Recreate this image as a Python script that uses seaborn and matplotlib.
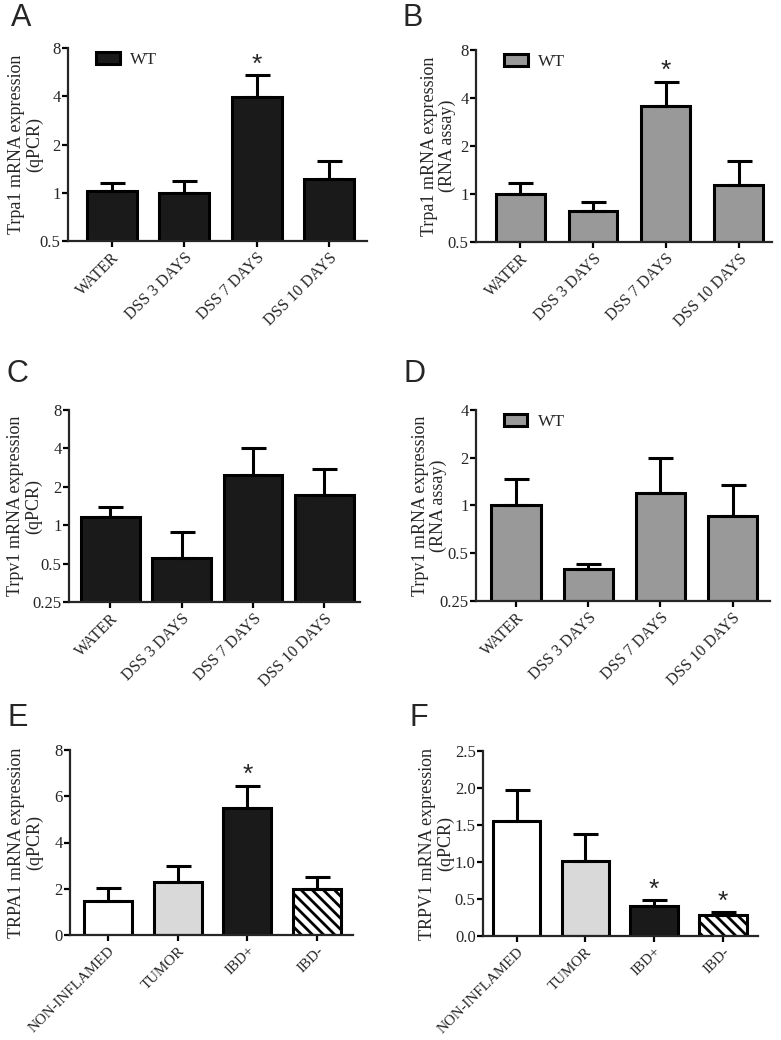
import matplotlib
matplotlib.use("Agg")
import matplotlib.pyplot as plt
import seaborn as sns
import numpy as np
import pandas as pd

# ---- data ----
dss_groups = ["WATER", "DSS 3 DAYS", "DSS 7 DAYS", "DSS 10 DAYS"]
human_groups = ["NON-INFLAMED", "TUMOR", "IBD+", "IBD-"]

trpa1_qpcr = [1.03, 1.00, 3.96, 1.22]
trpa1_qpcr_sem = [0.125, 0.19, 1.43, 0.35]
trpa1_rna = [1.00, 0.786, 3.55, 1.14]
trpa1_rna_sem = [0.18, 0.10, 1.51, 0.46]
trpv1_qpcr = [1.15, 0.557, 2.47, 1.72]
trpv1_qpcr_sem = [0.24, 0.33, 1.58, 1.03]
trpv1_rna = [1.01, 0.40, 1.20, 0.86]
trpv1_rna_sem = [0.46, 0.025, 0.78, 0.49]
human_trpa1 = [1.47, 2.30, 5.50, 2.01]
human_trpa1_sem = [0.56, 0.70, 0.96, 0.51]
human_trpv1 = [1.56, 1.01, 0.41, 0.29]
human_trpv1_sem = [0.41, 0.37, 0.07, 0.03]

log_ticks_8 = [0.5, 1, 2, 4, 8]
log_ticks_c = [0.25, 0.5, 1, 2, 4, 8]
log_ticks_d = [0.25, 0.5, 1, 2, 4]

sns.set_style("ticks")
plt.rcParams["font.family"] = ["Liberation Serif", "DejaVu Serif"]
plt.rcParams["hatch.linewidth"] = 2.0
plt.rcParams["axes.linewidth"] = 1.6

fig = plt.figure(figsize=(7.81, 10.4), dpi=100)

W, H = 781.0, 1040.0


def make_ax(x0, x1, ytop, ybot):
    return fig.add_axes([x0 / W, 1 - ybot / H, (x1 - x0) / W, (ybot - ytop) / H])


def style_axis(ax, xlim, ylabel, label_x, xfont):
    sns.despine(ax=ax)
    ax.set_xlim(*xlim)
    ax.set_xlabel("")
    ax.set_ylabel(ylabel, fontsize=13, linespacing=1.05)
    ax.yaxis.set_label_coords(label_x, 0.5)
    ax.tick_params(axis="both", which="major", direction="out", length=4.5,
                   width=1.6, color="black", labelsize=12)
    ax.tick_params(axis="y", pad=0.8)
    ax.tick_params(axis="x", pad=2)
    ax.tick_params(axis="y", which="minor", length=0)
    plt.setp(ax.get_xticklabels(), rotation=45, ha="right",
             rotation_mode="anchor", fontsize=xfont)


def add_stars(ax, values, sem, stars):
    for i in stars:
        ax.annotate("*", xy=(i, values[i] + sem[i]), xytext=(0, -1),
                    textcoords="offset points", ha="center", va="bottom",
                    fontsize=19, family="Liberation Sans")


def mouse_panel(ax, values, sem, color, width, ticks, ylabel, label_x, legend,
                xlim, stars=()):
    df = pd.DataFrame({"group": dss_groups, "value": values, "genotype": "WT"})
    sns.barplot(data=df, x="group", y="value", hue="genotype", palette=[color],
                dodge=False, width=width, edgecolor="black", linewidth=2.2,
                errorbar=None, legend=legend, ax=ax)
    ax.errorbar(np.arange(4), values, yerr=[np.zeros(4), sem], fmt="none",
                ecolor="black", elinewidth=2.2, capsize=9, capthick=2.2, zorder=1)
    ax.set_yscale("log", base=2)
    ax.set_ylim(ticks[0], ticks[-1])
    ax.set_yticks(ticks)
    ax.set_yticklabels([("%g" % t) for t in ticks])
    ax.yaxis.set_minor_locator(matplotlib.ticker.NullLocator())
    add_stars(ax, values, sem, stars)
    if legend:
        handles, labels = ax.get_legend_handles_labels()
        ax.legend(handles, labels, loc="upper left", frameon=False, fontsize=12.5,
                  handlelength=1.35, handleheight=0.75, handletextpad=0.6,
                  borderaxespad=0.2, bbox_to_anchor=(0.06, 1.035))
    style_axis(ax, xlim, ylabel, label_x, 11.5)


def human_panel(ax, values, sem, ticks, ylabel, label_x, xlim, stars=()):
    df = pd.DataFrame({"group": human_groups, "value": values})
    sns.barplot(data=df, x="group", y="value", hue="group",
                palette=["white", "#d9d9d9", "#1a1a1a", "white"],
                width=0.69, edgecolor="black", linewidth=2.2,
                errorbar=None, legend=False, ax=ax)
    ax.patches[3].set_hatch("\\\\\\")
    ax.errorbar(np.arange(4), values, yerr=[np.zeros(4), sem], fmt="none",
                ecolor="black", elinewidth=2.2, capsize=9, capthick=2.2, zorder=1)
    ax.set_ylim(ticks[0], ticks[-1])
    ax.set_yticks(ticks)
    add_stars(ax, values, sem, stars)
    style_axis(ax, xlim, ylabel, label_x, 10.8)


axA = make_ax(68, 367, 48, 241)
mouse_panel(axA, trpa1_qpcr, trpa1_qpcr_sem, "#1a1a1a", 0.69, log_ticks_8,
            "Trpa1 mRNA expression\n(qPCR)", -0.084, True, (-0.6, 3.52), stars=[2])

axB = make_ax(476, 772, 50, 242)
mouse_panel(axB, trpa1_rna, trpa1_rna_sem, "#999999", 0.67, log_ticks_8,
            "Trpa1 mRNA expression\n(RNA assay)", -0.068, True, (-0.61, 3.46),
            stars=[2])

axC = make_ax(69, 360, 410, 602)
mouse_panel(axC, trpv1_qpcr, trpv1_qpcr_sem, "#1a1a1a", 0.82, log_ticks_c,
            "Trpv1 mRNA expression\n(qPCR)", -0.092, False, (-0.58, 3.5))

axD = make_ax(476, 770, 410, 601)
mouse_panel(axD, trpv1_rna, trpv1_rna_sem, "#999999", 0.69, log_ticks_d,
            "Trpv1 mRNA expression\n(RNA assay)", -0.099, True, (-0.56, 3.52))

axE = make_ax(70, 353, 750, 935)
human_panel(axE, human_trpa1, human_trpa1_sem, [0, 2, 4, 6, 8],
            "TRPA1 mRNA expression\n(qPCR)", -0.095, (-0.55, 3.52), stars=[2])

axF = make_ax(483, 758, 751, 936)
human_panel(axF, human_trpv1, human_trpv1_sem, [0.0, 0.5, 1.0, 1.5, 2.0, 2.5],
            "TRPV1 mRNA expression\n(qPCR)", -0.105, (-0.49, 3.51), stars=[2, 3])
axF.set_yticklabels(["%.1f" % t for t in [0.0, 0.5, 1.0, 1.5, 2.0, 2.5]])

for letter, x, y in [("A", 11, 3), ("B", 402, 3), ("C", 7, 359), ("D", 404, 359),
                     ("E", 7, 703), ("F", 410, 703)]:
    fig.text(x / W, 1 - y / H, letter, fontsize=22, family="Liberation Sans",
             va="top", ha="left")

fig.savefig("out.png", dpi=100)
